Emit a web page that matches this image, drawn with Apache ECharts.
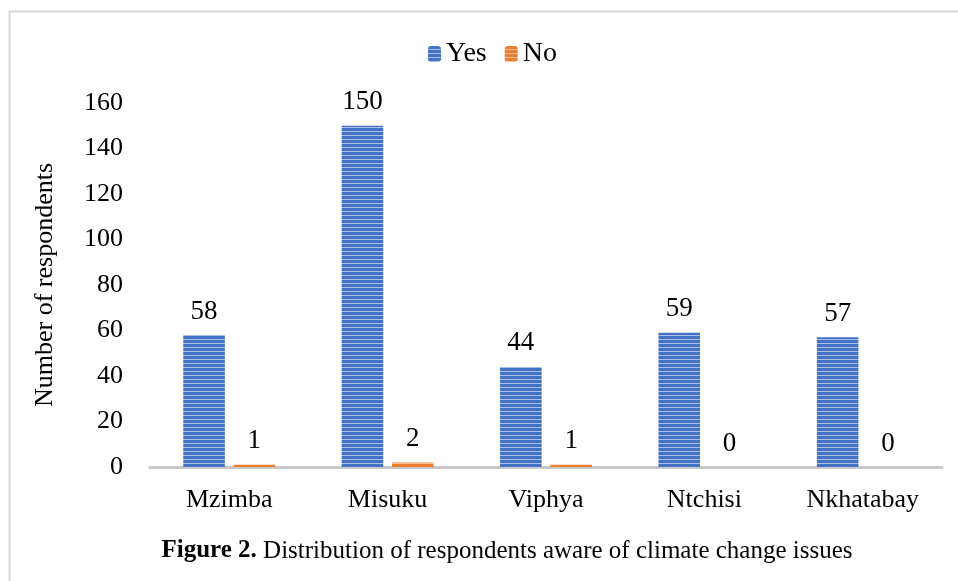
<!DOCTYPE html>
<html>
<head>
<meta charset="utf-8">
<script src="https://cdn.jsdelivr.net/npm/echarts@6/dist/echarts.min.js"></script>
<style>
  html, body { margin: 0; padding: 0; background: #fff; }
  #chart { width: 958px; height: 581px; }
</style>
</head>
<body>
<div id="chart"></div>
<script>
// Survey sites and respondent counts
const sites = ['Mzimba', 'Misuku', 'Viphya', 'Ntchisi', 'Nkhatabay'];
const yesCounts = [58, 150, 44, 59, 57];
const noCounts = [1, 2, 1, 0, 0];
const yTicks = [0, 20, 40, 60, 80, 100, 120, 140, 160];

// Horizontal striped fill used for the bars
function stripes(dark, light) {
  const c = document.createElement('canvas');
  c.width = 4; c.height = 4;
  const g = c.getContext('2d');
  g.fillStyle = dark; g.fillRect(0, 0, 4, 4);
  g.fillStyle = light; g.fillRect(0, 3, 4, 1);
  return { image: c, repeat: 'repeat' };
}

const serif = '"Liberation Serif", "Times New Roman", serif';
const chart = echarts.init(document.getElementById('chart'));

const labelStyle = {
  show: true, position: 'top', distance: 10,
  fontFamily: serif, fontSize: 27, color: '#000'
};

chart.setOption({
  animation: false,
  textStyle: { fontFamily: serif },
  legend: {
    top: 35, left: 423,
    itemWidth: 13, itemHeight: 16, itemGap: 18,
    textStyle: { fontFamily: serif, fontSize: 28, color: '#000' },
    data: ['Yes', 'No']
  },
  grid: { left: 150, right: 16, top: 103, bottom: 114 },
  xAxis: {
    type: 'category',
    data: sites,
    axisLine: { lineStyle: { color: '#c8c8c8', width: 3 } },
    axisTick: { show: false },
    axisLabel: { fontFamily: serif, fontSize: 26, color: '#000', margin: 20 }
  },
  yAxis: {
    type: 'value',
    min: yTicks[0], max: yTicks[yTicks.length - 1], interval: 20,
    name: 'Number of respondents',
    nameLocation: 'middle', nameGap: 92,
    nameTextStyle: { fontFamily: serif, fontSize: 26, color: '#000' },
    axisLine: { show: false },
    axisTick: { show: false },
    splitLine: { show: false },
    axisLabel: { fontFamily: serif, fontSize: 26, color: '#000', margin: 27 }
  },
  series: [
    {
      name: 'Yes', type: 'bar', data: yesCounts,
      barCategoryGap: '42%', barGap: '21%',
      itemStyle: { color: stripes('#4472C4', '#A9BEE6') },
      label: labelStyle
    },
    {
      name: 'No', type: 'bar', data: noCounts,
      itemStyle: { color: stripes('#ED7D31', '#F7BD96') },
      label: labelStyle
    }
  ],
  graphic: [
    {
      type: 'rect', silent: true,
      shape: { x: 9.5, y: 11.5, width: 960, height: 600 },
      style: { fill: 'none', stroke: '#d9d9d9', lineWidth: 2 }
    },
    {
      type: 'text', x: 507, y: 551,
      style: {
        text: '{b|Figure 2.} Distribution of respondents aware of climate change issues',
        align: 'center', verticalAlign: 'middle',
        rich: {
          b: { fontFamily: serif, fontSize: 25, fontWeight: 'bold', fill: '#000' }
        },
        fontFamily: serif, fontSize: 25, fill: '#000'
      }
    }
  ]
});
</script>
</body>
</html>
